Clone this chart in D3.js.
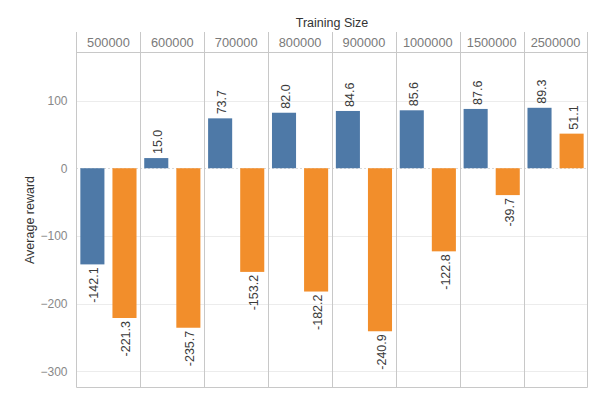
<!DOCTYPE html>
<html><head><meta charset="utf-8">
<script src="https://cdn.jsdelivr.net/npm/d3@7"></script>
<style>body{margin:0;background:#fff;} svg{display:block;}</style>
</head><body>
<script>
const categories = ["500000","600000","700000","800000","900000","1000000","1500000","2500000"];
const seriesNames = ["A","B"];
const blueValues = [-142.1, 15.0, 73.7, 82.0, 84.6, 85.6, 87.6, 89.3];
const orangeValues = [-221.3, -235.7, -153.2, -182.2, -240.9, -122.8, -39.7, 51.1];
const yTicks = [100, 0, -100, -200, -300];
const colors = ["#4e79a7", "#f28e2b"];

(function () {
const W = 599, H = 399;
const pLeft = 76.5, pRight = 587.5, pTop = 32, headerBottom = 52.5, pBottom = 387.5;
const font = "'Liberation Sans', Arial, sans-serif";

const svg = d3.select("body").append("svg").attr("width", W).attr("height", H);

const x = d3.scaleBand().domain(categories).range([pLeft, pRight]);
const xs = d3.scaleBand().domain(seriesNames).range([0, x.bandwidth()]).paddingInner(0.25).paddingOuter(0.12);
const y = d3.scaleLinear().domain([-324, 171]).range([pBottom, headerBottom]);

svg.append("g").selectAll("line").data(yTicks.filter(d => d !== 0)).join("line")
  .attr("x1", pLeft).attr("x2", pRight)
  .attr("y1", d => Math.round(y(d)) + 0.5).attr("y2", d => Math.round(y(d)) + 0.5)
  .attr("stroke", "#ececec").attr("stroke-width", 1);

svg.append("line").attr("x1", pLeft).attr("x2", pRight)
  .attr("y1", Math.round(y(0)) + 0.5).attr("y2", Math.round(y(0)) + 0.5)
  .attr("stroke", "#b5b5b5").attr("stroke-width", 1).attr("stroke-dasharray", "1,3");

const data = categories.map((c, i) => ({c, vals: [blueValues[i], orangeValues[i]]}));

const groups = svg.append("g").selectAll("g").data(data).join("g")
  .attr("transform", d => `translate(${x(d.c)},0)`);

groups.selectAll("rect").data(d => d.vals.map((v, j) => ({v, s: seriesNames[j], j}))).join("rect")
  .attr("x", d => xs(d.s))
  .attr("width", xs.bandwidth())
  .attr("y", d => y(Math.max(0, d.v)))
  .attr("height", d => Math.abs(y(d.v) - y(0)))
  .attr("fill", d => colors[d.j]);

groups.selectAll("text").data(d => d.vals.map((v, j) => ({v, s: seriesNames[j], j}))).join("text")
  .attr("transform", d => {
    const cx = xs(d.s) + xs.bandwidth() / 2;
    const yy = d.v >= 0 ? y(d.v) - 4 : y(d.v) + 3;
    return `translate(${cx + 6},${yy}) rotate(-90)`;
  })
  .attr("text-anchor", d => d.v >= 0 ? "start" : "end")
  .attr("font-family", font).attr("font-size", 12.5).attr("fill", "#3a3a3a")
  .text(d => d.v.toFixed(1));

svg.append("g").selectAll("line").data(categories.slice(1)).join("line")
  .attr("x1", d => Math.round(x(d)) + 0.5).attr("x2", d => Math.round(x(d)) + 0.5)
  .attr("y1", pTop).attr("y2", pBottom)
  .attr("stroke", "#c8c8c8");
svg.append("line").attr("x1", pLeft).attr("x2", pLeft).attr("y1", pTop).attr("y2", pBottom).attr("stroke", "#c8c8c8");
svg.append("line").attr("x1", pRight).attr("x2", pRight).attr("y1", pTop).attr("y2", pBottom).attr("stroke", "#c8c8c8");
svg.append("line").attr("x1", pLeft).attr("x2", pRight).attr("y1", headerBottom).attr("y2", headerBottom).attr("stroke", "#c8c8c8");
svg.append("line").attr("x1", pLeft).attr("x2", pRight).attr("y1", pBottom).attr("y2", pBottom).attr("stroke", "#c8c8c8");

svg.append("g").selectAll("text").data(categories).join("text")
  .attr("x", d => x(d) + x.bandwidth() / 2).attr("y", 47)
  .attr("text-anchor", "middle")
  .attr("font-family", font).attr("font-size", 12.8).attr("fill", "#7a7a7a")
  .text(d => d);

svg.append("text").attr("x", (pLeft + pRight) / 2).attr("y", 26.5)
  .attr("text-anchor", "middle").attr("font-family", font).attr("font-size", 12.5).attr("fill", "#333")
  .text("Training Size");

const yAxis = d3.axisLeft(y).tickValues(yTicks).tickSize(0).tickPadding(9).tickFormat(d3.format("d"));
const ga = svg.append("g").attr("transform", `translate(${pLeft},0)`).call(yAxis);
ga.select(".domain").remove();
ga.selectAll("text").attr("font-family", font).attr("font-size", 12).attr("fill", "#888");

svg.append("text").attr("transform", `translate(34,${(headerBottom + pBottom) / 2}) rotate(-90)`)
  .attr("text-anchor", "middle").attr("font-family", font).attr("font-size", 12.5).attr("fill", "#333")
  .text("Average reward");
})();
</script>
</body></html>
